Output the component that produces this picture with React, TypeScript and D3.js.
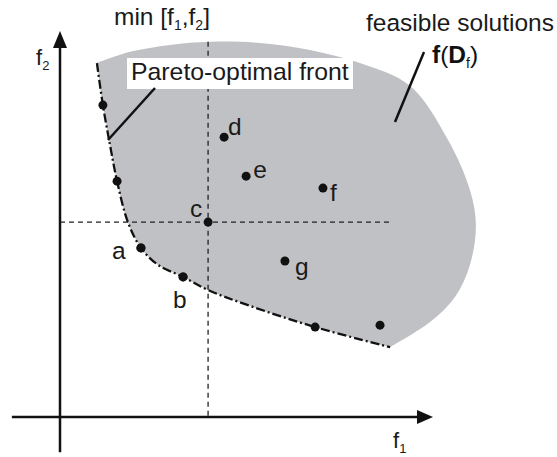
import React from "react";
import * as d3 from "d3";

// abstract objective space (f1, f2), both 0..100
const paretoPoints: [number, number][] = [
  [11.5, 80.8],
  [15.3, 61.1],
  [21.7, 43.8],
  [33.0, 36.3],
  [68.4, 23.3],
];
const namedPoints = [
  { name: "a", f1: 21.7, f2: 43.8 },
  { name: "b", f1: 33.0, f2: 36.3 },
  { name: "c", f1: 39.7, f2: 50.5 },
  { name: "d", f1: 44.0, f2: 72.5 },
  { name: "e", f1: 49.9, f2: 62.4 },
  { name: "f", f1: 70.5, f2: 59.3 },
  { name: "g", f1: 60.3, f2: 40.4 },
];
const extraPoints: [number, number][] = [[85.8, 23.8]];

// outer (upper/right) edge of the feasible region
const feasibleEdge: [number, number][] = [
  [9.9, 91.7], [18.8, 94.6], [29.5, 96.4], [40.2, 97.2], [53.6, 96.9],
  [67.0, 95.1], [80.4, 91.7], [93.8, 85.8], [104.0, 71.8], [109.9, 58.8],
  [111.5, 49.7], [109.9, 39.4], [105.9, 31.1], [99.2, 24.6], [88.5, 18.1],
];
// pareto-optimal front (lower/left edge)
const frontEdge: [number, number][] = [
  [9.9, 91.7], [11.5, 80.8], [13.4, 70.5], [15.3, 61.1], [18.2, 50.5],
  [21.7, 43.8], [26.3, 39.4], [33.0, 36.3], [39.7, 32.9], [50.9, 28.8],
  [68.4, 23.3], [88.5, 18.1],
];

const labelOffset: Record<string, [number, number]> = {
  a: [-29, 11], b: [-10, 31], c: [-18, -5], d: [4, -2],
  e: [7, 2], f: [7, 13], g: [10, 14],
};

const FONT = "'Liberation Sans', Arial, Helvetica, sans-serif";

export default function App() {
  const width = 557;
  const height = 457;
  const x = d3.scaleLinear().domain([0, 100]).range([60, 433]);
  const y = d3.scaleLinear().domain([0, 100]).range([417, 31]);

  const ref = namedPoints.find((p) => p.name === "c")!;

  const curve = d3.line<[number, number]>()
    .x((d) => x(d[0]))
    .y((d) => y(d[1]))
    .curve(d3.curveCatmullRom.alpha(0.5));

  const regionPath =
    curve(feasibleEdge)! +
    curve([...frontEdge].reverse())!.replace(/^M/, "L") +
    "Z";
  const frontPath = curve(frontEdge)!;

  const x0 = x(0);
  const y0 = y(0);

  return (
    <svg
      width={width}
      height={height}
      style={{ position: "absolute", left: 0, top: 0, background: "#fff" }}
      fontFamily={FONT}
    >
      <path d={regionPath} fill="#c0c1c4" stroke="none" />

      {/* reference lines through c */}
      <line x1={x0} x2={x(88.5)} y1={y(ref.f2)} y2={y(ref.f2)}
        stroke="#222" strokeWidth={1.3} strokeDasharray="5,4" />
      <line x1={x(ref.f1)} x2={x(ref.f1)} y1={y(97.2)} y2={y0}
        stroke="#222" strokeWidth={1.3} strokeDasharray="5,4" />

      <path d={frontPath} fill="none" stroke="#111" strokeWidth={2.3}
        strokeDasharray="9,3,2,3" />

      {/* axes */}
      <line x1={x(-12.9)} x2={x(100) - 14} y1={y0} y2={y0} stroke="#111" strokeWidth={2.5} />
      <path d={`M${x(100)},${y0} L${x(100) - 16},${y0 - 7} L${x(100) - 16},${y0 + 7} Z`} fill="#111" />
      <line x1={x0} x2={x0} y1={y(-9.1)} y2={y(100) + 14} stroke="#111" strokeWidth={2.5} />
      <path d={`M${x0},${y(100)} L${x0 - 7},${y(100) + 17} L${x0 + 7},${y(100) + 17} Z`} fill="#111" />

      {paretoPoints.concat(extraPoints).map((p, i) => (
        <circle key={"p" + i} cx={x(p[0])} cy={y(p[1])} r={4.5} fill="#111" />
      ))}
      {namedPoints.map((p) => (
        <g key={p.name}>
          <circle cx={x(p.f1)} cy={y(p.f2)} r={4.5} fill="#111" />
          <text x={x(p.f1) + labelOffset[p.name][0]} y={y(p.f2) + labelOffset[p.name][1]}
            fontSize={24.5} fill="#1a1a1a">{p.name}</text>
        </g>
      ))}

      {/* Pareto label */}
      <rect x={127} y={58} width={226} height={31} fill="#fff" />
      <text x={131} y={80} fontSize={24.8} fill="#1a1a1a">Pareto-optimal front</text>
      <line x1={155} y1={88} x2={108} y2={140} stroke="#111" strokeWidth={2.5} />

      {/* feasible label */}
      <text x={366} y={31} fontSize={24.5} fill="#1a1a1a">feasible solutions</text>
      <text x={432} y={63} fontSize={24.5} fill="#111">
        <tspan fontWeight="bold">f</tspan>
        <tspan>(</tspan>
        <tspan fontWeight="bold">D</tspan>
        <tspan fontSize={14} dy={5}>f</tspan>
        <tspan dy={-5}>)</tspan>
      </text>
      <line x1={424} y1={52} x2={395} y2={122} stroke="#111" strokeWidth={2.5} />

      {/* titles */}
      <text x={114} y={25} fontSize={24.5} fill="#1a1a1a">
        min [f<tspan fontSize={14} dy={5}>1</tspan>
        <tspan dy={-5}>,f</tspan>
        <tspan fontSize={14} dy={5}>2</tspan>
        <tspan dy={-5}>]</tspan>
      </text>
      <text x={36} y={65} fontSize={22} fill="#1a1a1a">
        f<tspan fontSize={13} dy={5}>2</tspan>
      </text>
      <text x={393} y={448} fontSize={22} fill="#1a1a1a">
        f<tspan fontSize={13} dy={5}>1</tspan>
      </text>
    </svg>
  );
}
